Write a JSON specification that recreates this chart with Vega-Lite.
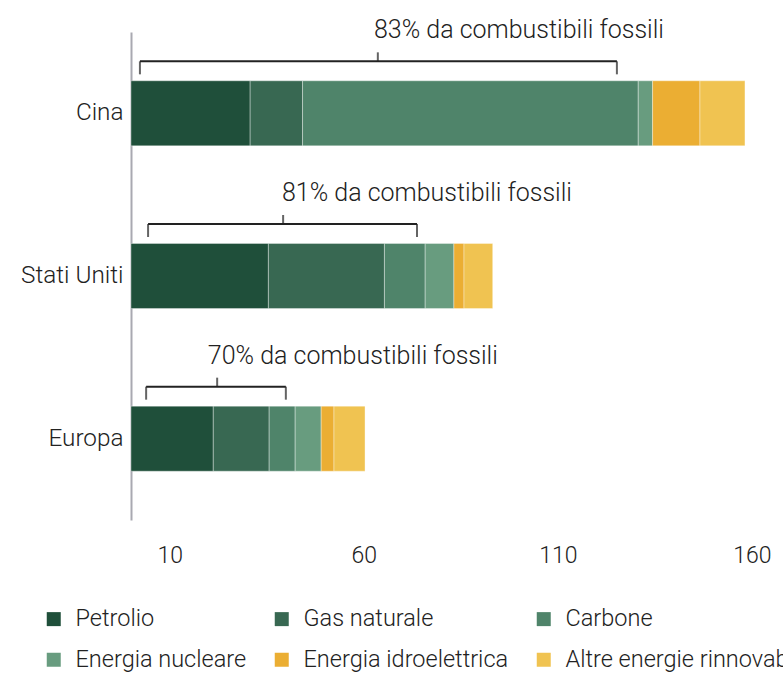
{
  "$schema": "https://vega.github.io/schema/vega-lite/v6.json",
  "width": 652,
  "height": 488,
  "autosize": {"type": "none"},
  "padding": {"left": 131, "top": 32, "right": 0, "bottom": 157},
  "background": "white",
  "config": {
    "view": {"stroke": null},
    "font": "Roboto",
    "text": {"font": "Roboto"}
  },
  "datasets": {
    "energia": [
      {"regione": "Cina", "fonte": "Petrolio", "k": 1, "valore": 30.7},
      {"regione": "Cina", "fonte": "Gas naturale", "k": 2, "valore": 13.5},
      {"regione": "Cina", "fonte": "Carbone", "k": 3, "valore": 86.5},
      {"regione": "Cina", "fonte": "Energia nucleare", "k": 4, "valore": 3.7},
      {"regione": "Cina", "fonte": "Energia idroelettrica", "k": 5, "valore": 12.2},
      {"regione": "Cina", "fonte": "Altre energie rinnovabili", "k": 6, "valore": 11.6},
      {"regione": "Stati Uniti", "fonte": "Petrolio", "k": 1, "valore": 35.4},
      {"regione": "Stati Uniti", "fonte": "Gas naturale", "k": 2, "valore": 29.9},
      {"regione": "Stati Uniti", "fonte": "Carbone", "k": 3, "valore": 10.5},
      {"regione": "Stati Uniti", "fonte": "Energia nucleare", "k": 4, "valore": 7.4},
      {"regione": "Stati Uniti", "fonte": "Energia idroelettrica", "k": 5, "valore": 2.6},
      {"regione": "Stati Uniti", "fonte": "Altre energie rinnovabili", "k": 6, "valore": 7.4},
      {"regione": "Europa", "fonte": "Petrolio", "k": 1, "valore": 21.2},
      {"regione": "Europa", "fonte": "Gas naturale", "k": 2, "valore": 14.4},
      {"regione": "Europa", "fonte": "Carbone", "k": 3, "valore": 6.7},
      {"regione": "Europa", "fonte": "Energia nucleare", "k": 4, "valore": 6.7},
      {"regione": "Europa", "fonte": "Energia idroelettrica", "k": 5, "valore": 3.3},
      {"regione": "Europa", "fonte": "Altre energie rinnovabili", "k": 6, "valore": 8.0}
    ],
    "parentesi": [
      {"regione": "Cina", "inizio": 2.3, "fine": 125.2, "centro": 63.6, "testo_x": 62.6, "testo": "83% da combustibili fossili"},
      {"regione": "Stati Uniti", "inizio": 4.4, "fine": 73.7, "centro": 39.2, "testo_x": 38.9, "testo": "81% da combustibili fossili"},
      {"regione": "Europa", "inizio": 3.9, "fine": 39.9, "centro": 22.2, "testo_x": 19.8, "testo": "70% da combustibili fossili"}
    ]
  },
  "layer": [
    {
      "data": {"name": "energia"},
      "mark": {"type": "bar", "stroke": "white", "strokeWidth": 0.8, "strokeOpacity": 0.45},
      "encoding": {
        "y": {
          "field": "regione", "type": "nominal",
          "sort": ["Cina", "Stati Uniti", "Europa"],
          "scale": {"paddingInner": 0.6, "paddingOuter": 0.3},
          "axis": {
            "title": null, "ticks": false, "labelPadding": 8,
            "labelFontSize": 24.3, "labelColor": "#222222", "labelFont": "Roboto", "labelFontWeight": 300,
            "domainColor": "#a9a9b1", "domainWidth": 2
          }
        },
        "x": {
          "field": "valore", "type": "quantitative", "stack": "zero",
          "scale": {"domain": [0, 168], "nice": false},
          "axis": {
            "title": null, "values": [10, 60, 110, 160], "ticks": false, "domain": false, "grid": false,
            "labelPadding": 24, "labelFontSize": 23, "labelColor": "#222222", "labelFont": "Roboto", "labelFontWeight": 300
          }
        },
        "order": {"field": "k", "type": "quantitative"},
        "color": {
          "field": "fonte", "type": "nominal",
          "scale": {
            "domain": ["Petrolio", "Gas naturale", "Carbone", "Energia nucleare", "Energia idroelettrica", "Altre energie rinnovabili"],
            "range": ["#1f4f3a", "#386852", "#4f846a", "#689c7f", "#ebae33", "#f0c351"]
          },
          "legend": {
            "orient": "none", "legendX": -89, "legendY": 575, "columns": 3,
            "direction": "horizontal",
            "title": null, "symbolType": "square", "symbolSize": 196, "symbolStrokeWidth": 0,
            "labelFontSize": 23.5, "labelColor": "#222222", "labelFont": "Roboto", "labelFontWeight": 300,
            "labelOffset": 10, "rowPadding": 16, "columnPadding": 23, "labelLimit": 400
          }
        }
      }
    },
    {
      "data": {"name": "parentesi"},
      "mark": {"type": "rule", "color": "#222222", "strokeWidth": 2, "yOffset": -52},
      "encoding": {
        "y": {"field": "regione", "type": "nominal", "sort": ["Cina", "Stati Uniti", "Europa"]},
        "x": {"field": "inizio", "type": "quantitative"},
        "x2": {"field": "fine"}
      }
    },
    {
      "data": {"name": "parentesi"},
      "mark": {"type": "tick", "color": "#222222", "thickness": 2, "size": 13, "yOffset": -45.5, "orient": "vertical"},
      "encoding": {
        "y": {"field": "regione", "type": "nominal", "sort": ["Cina", "Stati Uniti", "Europa"]},
        "x": {"field": "inizio", "type": "quantitative"}
      }
    },
    {
      "data": {"name": "parentesi"},
      "mark": {"type": "tick", "color": "#222222", "thickness": 2, "size": 13, "yOffset": -45.5, "orient": "vertical"},
      "encoding": {
        "y": {"field": "regione", "type": "nominal", "sort": ["Cina", "Stati Uniti", "Europa"]},
        "x": {"field": "fine", "type": "quantitative"}
      }
    },
    {
      "data": {"name": "parentesi"},
      "mark": {"type": "tick", "color": "#222222", "thickness": 2, "size": 9, "yOffset": -56.5, "orient": "vertical"},
      "encoding": {
        "y": {"field": "regione", "type": "nominal", "sort": ["Cina", "Stati Uniti", "Europa"]},
        "x": {"field": "centro", "type": "quantitative"}
      }
    },
    {
      "data": {"name": "parentesi"},
      "mark": {"type": "text", "align": "left", "baseline": "alphabetic", "yOffset": -75, "fontSize": 25, "fontWeight": 300, "color": "#222222", "font": "Roboto"},
      "encoding": {
        "y": {"field": "regione", "type": "nominal", "sort": ["Cina", "Stati Uniti", "Europa"]},
        "x": {"field": "testo_x", "type": "quantitative"},
        "text": {"field": "testo"}
      }
    }
  ]
}
